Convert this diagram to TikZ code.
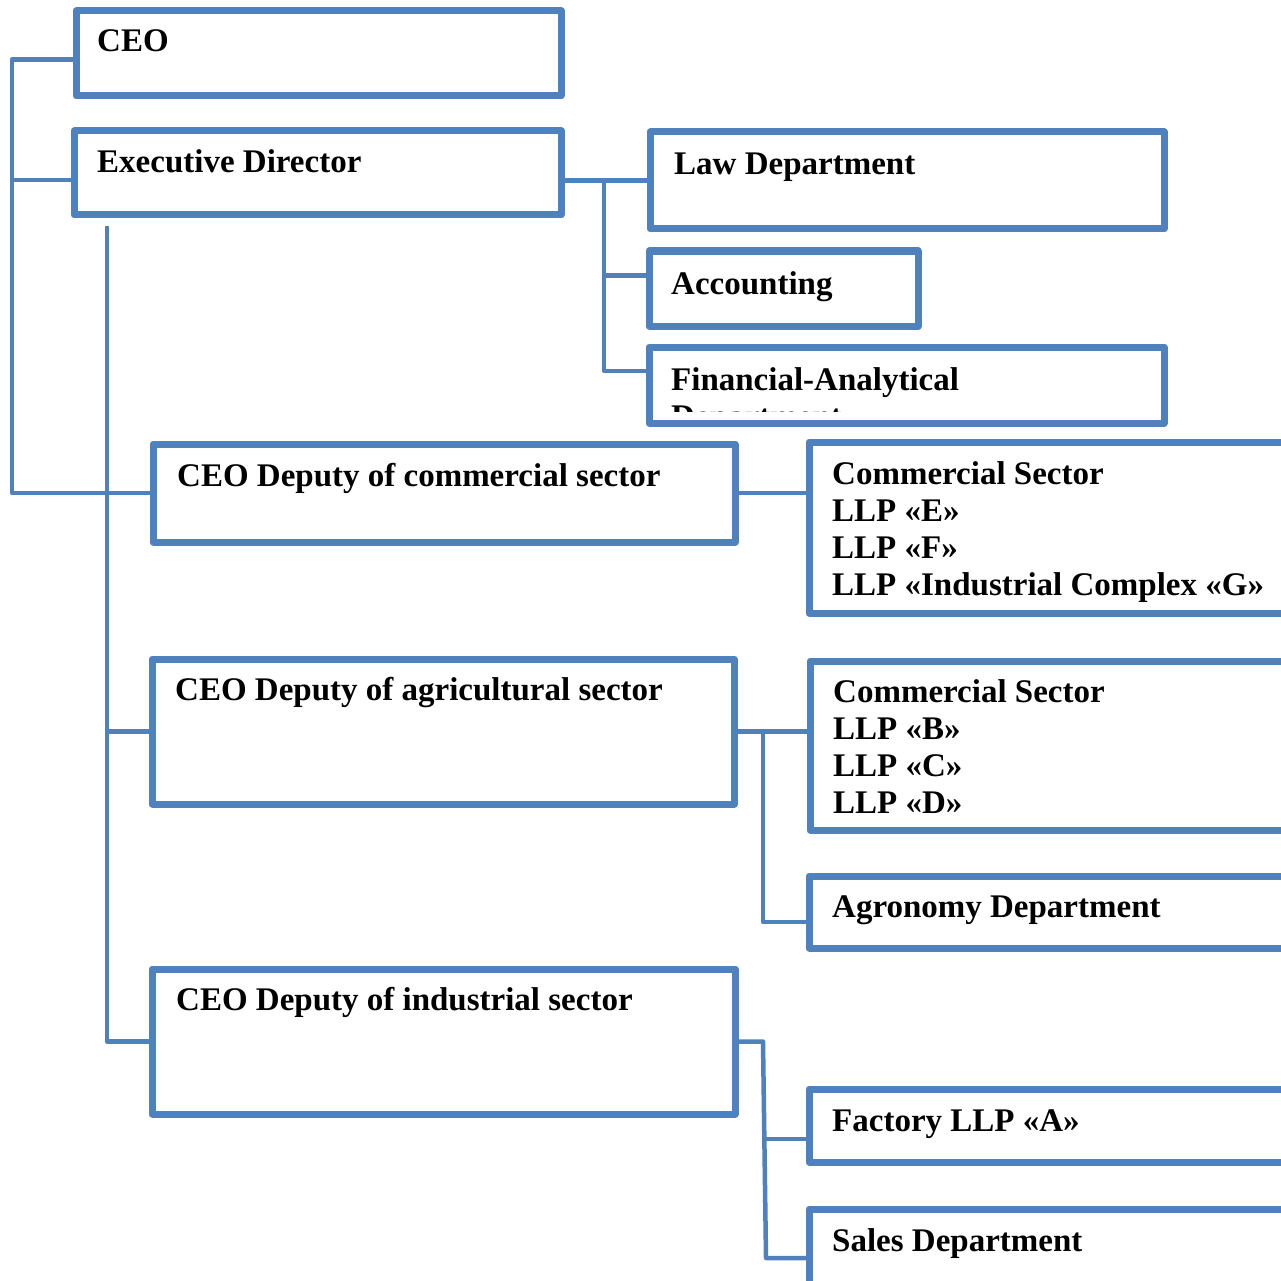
\documentclass[tikz,border=0pt]{standalone}
\usepackage{fontspec}
\setmainfont{Liberation Serif}
\definecolor{ob}{HTML}{4F81BD}
\tikzset{
  box/.style={draw=ob, line width=7pt, rectangle, inner sep=0pt, outer sep=0pt, anchor=north west, line join=round},
  lbl/.style={anchor=base west, inner sep=0pt, font=\fontsize{33}{37}\selectfont\bfseries, align=left},
  conn/.style={draw=ob, line width=4.5pt, line join=round}
}
\begin{document}
\begin{tikzpicture}[x=1pt,y=-1pt]
\useasboundingbox (0,0) rectangle (1281,1281);
\clip (0,0) rectangle (1281,1281);
% boxes
\node[box, minimum width=485pt, minimum height=85pt] (ceo) at (76,11) {};
\node[box, minimum width=487pt, minimum height=84pt] (exec) at (74,131) {};
\node[box, minimum width=514pt, minimum height=97pt] (law) at (650,132) {};
\node[box, minimum width=269pt, minimum height=75pt] (acc) at (649,251) {};
\node[box, minimum width=515pt, minimum height=76pt] (fin) at (649,347) {};
\node[box, minimum width=582pt, minimum height=98pt] (comm) at (153,444) {};
\node[box, minimum width=501pt, minimum height=171pt] (cs1) at (809,442) {};
\node[box, minimum width=582pt, minimum height=145pt] (agr) at (152,659) {};
\node[box, minimum width=500pt, minimum height=169pt] (cs2) at (810,661) {};
\node[box, minimum width=501pt, minimum height=72pt] (agro) at (809,876) {};
\node[box, minimum width=583pt, minimum height=145pt] (ind) at (152,969) {};
\node[box, minimum width=501pt, minimum height=73pt] (fac) at (809,1089) {};
\node[box, minimum width=501pt, minimum height=111pt] (sales) at (809,1209) {};
% labels (multi-line labels are placed by their last baseline)
\node[lbl] (ceot) at (97,52) {CEO};
\node[lbl] (exect) at (97,173) {Executive Director};
\node[lbl] (lawt) at (674,175) {Law Department};
\node[lbl] (acct) at (671,294) {Accounting};
\begin{scope}
\clip (649,350) rectangle (1164,411);
\node[lbl] (fint) at (671,427) {Financial-Analytical\\Department};
\end{scope}
\node[lbl] (commt) at (177,486) {CEO Deputy of commercial sector};
\node[lbl] (cs1t) at (832,595) {Commercial Sector\\LLP «E»\\LLP «F»\\LLP «Industrial Complex «G»};
\node[lbl] (agrt) at (175,700) {CEO Deputy of agricultural sector};
\node[lbl] (cs2t) at (833,813) {Commercial Sector\\LLP «B»\\LLP «C»\\LLP «D»};
\node[lbl] (agrot) at (832,917) {Agronomy Department};
\node[lbl] (indt) at (176,1010) {CEO Deputy of industrial sector};
\node[lbl] (fact) at (832,1131) {Factory LLP «A»};
\node[lbl] (salest) at (832,1251) {Sales Department};
% connector coordinates
\coordinate (l1) at (12,0);
\coordinate (l2) at (107,226);
\coordinate (l3) at (604,0);
\coordinate (l4) at (763,0);
\coordinate (ceoout) at ([yshift=-6pt]ceo.west);
\coordinate (execin) at ([yshift=-7pt]exec.west);
\coordinate (accin) at ([yshift=13pt]acc.west);
\coordinate (finin) at ([yshift=14pt]fin.west);
\coordinate (agroin) at ([yshift=-10pt]agro.west);
\coordinate (facin) at ([yshift=-13.5pt]fac.west);
\coordinate (salesin) at ([yshift=-49pt]sales.north west);
% connectors
\draw[conn] (ceoout) -| (comm.west -| l1) -- (comm.west);
\draw[conn] (execin -| l1) -- (execin);
\draw[conn] (l2) |- (ind.west);
\draw[conn] (agr.west -| l2) -- (agr.west);
\draw[conn] (exec.east |- law.west) -- (law.west);
\draw[conn] (law.west -| l3) |- (finin);
\draw[conn] (accin -| l3) -- (accin);
\draw[conn] (comm.east) -- (comm.east -| cs1.west);
\draw[conn] (agr.east) -- (agr.east -| cs2.west);
\draw[conn] (agr.east -| l4) |- (agroin);
\draw[conn] (ind.east) -- (ind.east -| l4) -- ([xshift=3pt]salesin -| l4) -- (salesin);
\draw[conn] ([xshift=1.5pt]facin -| l4) -- (facin);
\end{tikzpicture}
\end{document}
